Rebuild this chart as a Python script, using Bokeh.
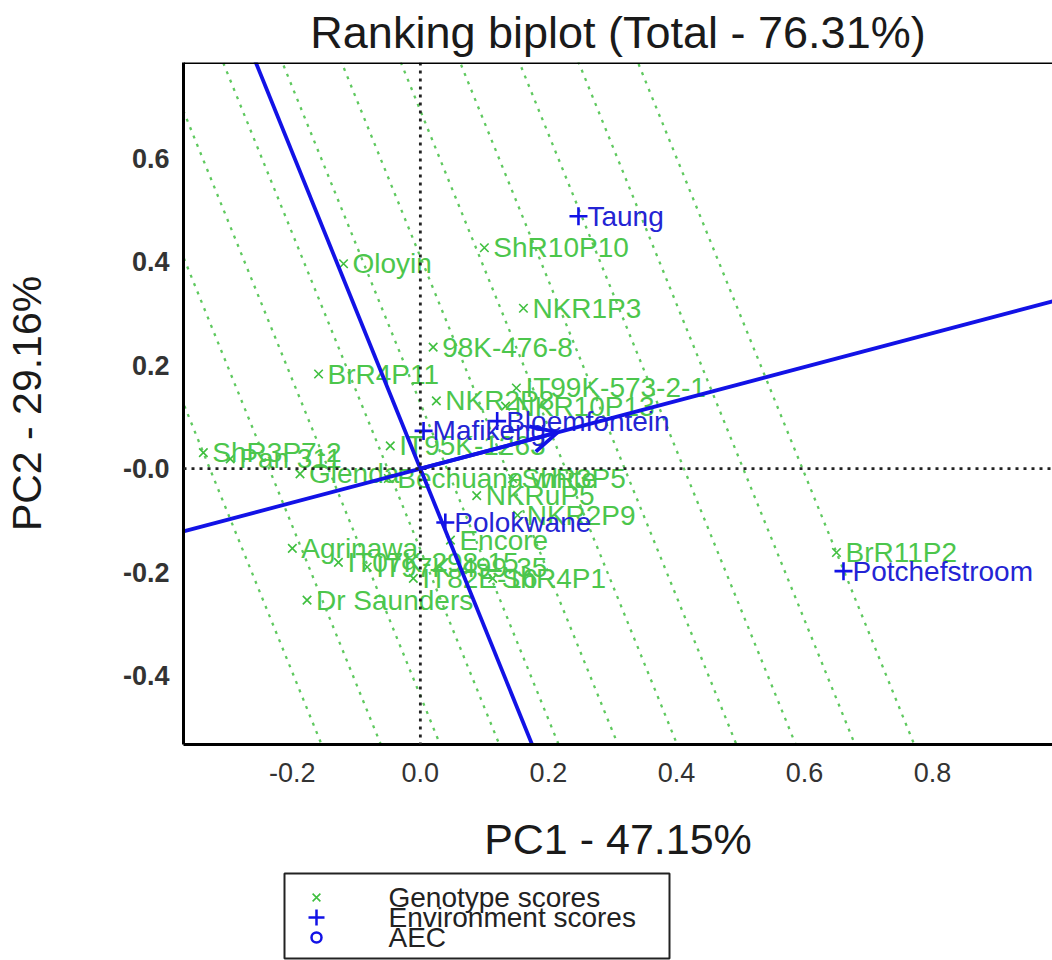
import numpy as np
from bokeh.plotting import figure
from bokeh.models import Range1d, FixedTicker, Span, Arrow, OpenHead, ColumnDataSource
from bokeh.layouts import column
from bokeh.core.properties import value
from bokeh.embed import file_html
from bokeh.resources import INLINE

# ---- chart text -------------------------------------------------------------
title_text = "Ranking biplot (Total - 76.31%)"
pc1_label = "PC1 - 47.15%"
pc2_label = "PC2 - 29.16%"

# ---- genotype scores (PC1, PC2) ---------------------------------------------
genotypes = [
    "Oloyin", "ShR10P10", "NKR1P3", "98K-476-8", "BrR4P11", "NKR2P8",
    "IT99K-573-2-1", "NKR10P13", "ShR3P7-2", "Pan 311", "IT95K-1263",
    "Glenda", "Bechuana white", "ShR3P5", "NKRuP5", "NKR2P9", "Agrinawa",
    "Encore", "IT07K-298-15", "IT97K-499-35", "IT82E-16", "ShR4P1",
    "Dr Saunders", "BrR11P2",
]
geno_pc1 = [
    -0.120, 0.100, 0.161, 0.020, -0.159, 0.025,
    0.150, 0.133, -0.339, -0.297, -0.047,
    -0.188, -0.050, 0.144, 0.088, 0.152, -0.200,
    0.047, -0.128, -0.083, -0.011, 0.113,
    -0.177, 0.650,
]
geno_pc2 = [
    0.396, 0.427, 0.310, 0.235, 0.183, 0.131,
    0.156, 0.121, 0.031, 0.019, 0.044,
    -0.010, -0.019, -0.019, -0.052, -0.090, -0.154,
    -0.138, -0.181, -0.190, -0.212, -0.212,
    -0.254, -0.162,
]

# ---- environment scores (PC1, PC2) ------------------------------------------
environments = ["Taung", "Bloemfontein", "Mafikeng", "Polokwane", "Potchefstroom"]
env_pc1 = [0.247, 0.120, 0.005, 0.039, 0.661]
env_pc2 = [0.488, 0.092, 0.073, -0.104, -0.198]

# ---- axes -------------------------------------------------------------------
x_ticks = [-0.2, 0.0, 0.2, 0.4, 0.6, 0.8]
x_tick_labels = ["-0.2", "0.0", "0.2", "0.4", "0.6", "0.8"]
y_ticks = [-0.4, -0.2, 0.0, 0.2, 0.4, 0.6]
y_tick_labels = ["-0.4", "-0.2", "-0.0", "0.2", "0.4", "0.6"]
x_lim = (-0.370, 0.9875)
y_lim = (-0.533, 0.785)

legend_labels = ["Genotype scores", "Environment scores", "AEC"]

GREEN = "#3fbf3f"
GREEN_TXT = "#4cc64c"
GREEN_DOT = "#5fc95f"
BLUE = "#1212e6"
BLUE_TXT = "#2424d4"
FONT = value("Liberation Sans")

# ---- average environment coordinate (AEC) ------------------------------------
gx = np.array(geno_pc1)
gy = np.array(geno_pc2)
aec = np.array([np.mean(env_pc1), np.mean(env_pc2)])
a_dir = aec / np.linalg.norm(aec)           # AEC abscissa direction
o_dir = np.array([-a_dir[1], a_dir[0]])      # AEC ordinate direction
L = 5.0

p = figure(
    width=1052, height=865,
    x_range=Range1d(*x_lim), y_range=Range1d(*y_lim),
    toolbar_location=None, output_backend="svg",
    min_border_left=183, min_border_right=0,
    min_border_top=60, min_border_bottom=120,
)
p.background_fill_color = "white"
p.border_fill_color = "white"
p.outline_line_color = None
p.grid.visible = False

# ranking guides: perpendicular to the AEC, spanning the genotype projections
proj = gx * a_dir[0] + gy * a_dir[1]
levels = np.linspace(proj.min(), proj.max(), 11)
xs = [[t * a_dir[0] - L * o_dir[0], t * a_dir[0] + L * o_dir[0]] for t in levels]
ys = [[t * a_dir[1] - L * o_dir[1], t * a_dir[1] + L * o_dir[1]] for t in levels]
p.multi_line(xs, ys, line_color=GREEN_DOT, line_width=2.3, line_dash="3 6")

# zero reference lines
p.add_layout(Span(location=0, dimension="width", line_color="#222222",
                  line_width=2.8, line_dash="3 5"))
p.add_layout(Span(location=0, dimension="height", line_color="#222222",
                  line_width=2.8, line_dash="3 5"))

# genotype markers and labels
gsrc = ColumnDataSource(dict(x=geno_pc1, y=geno_pc2, name=genotypes))
p.scatter("x", "y", source=gsrc, marker="x", size=12, line_color=GREEN, line_width=1.6)
p.text("x", "y", text="name", source=gsrc, x_offset=9, text_baseline="middle",
       text_align="left", text_color=GREEN_TXT, text_font=FONT, text_font_size="28px")

# environment markers and labels
esrc = ColumnDataSource(dict(x=env_pc1, y=env_pc2, name=environments))
p.scatter("x", "y", source=esrc, marker="cross", size=18, line_color=BLUE, line_width=2.6)
p.text("x", "y", text="name", source=esrc, x_offset=9, text_baseline="middle",
       text_align="left", text_color=BLUE_TXT, text_font=FONT, text_font_size="28px")

# AEC abscissa and ordinate
p.line([-L * a_dir[0], L * a_dir[0]], [-L * a_dir[1], L * a_dir[1]],
       line_color=BLUE, line_width=3.8)
p.line([-L * o_dir[0], L * o_dir[0]], [-L * o_dir[1], L * o_dir[1]],
       line_color=BLUE, line_width=3.8)
p.add_layout(Arrow(end=OpenHead(size=26, line_color=BLUE, line_width=3.8),
                   x_start=0, y_start=0, x_end=aec[0], y_end=aec[1],
                   line_color=BLUE, line_width=3.8))

# frame top edge
p.add_layout(Span(location=y_lim[1], dimension="width", line_color="black", line_width=3))

# title
p.title.text = title_text
p.title.align = "center"
p.title.text_font = "Liberation Sans"
p.title.text_font_size = "45px"
p.title.text_font_style = "normal"
p.title.text_color = "#1a1a1a"
p.title.standoff = 9

# axes
p.xaxis.ticker = FixedTicker(ticks=x_ticks)
p.xaxis.major_label_overrides = dict(zip(x_ticks, x_tick_labels))
p.yaxis.ticker = FixedTicker(ticks=y_ticks)
p.yaxis.major_label_overrides = dict(zip(y_ticks, y_tick_labels))
for ax in (p.xaxis[0], p.yaxis[0]):
    ax.axis_line_width = 3
    ax.axis_line_color = "black"
    ax.major_tick_line_color = None
    ax.minor_tick_line_color = None
    ax.major_label_text_font = "Liberation Sans"
    ax.major_label_text_font_size = "27px"
    ax.major_label_text_color = "#333333"
    ax.axis_label_text_font = "Liberation Sans"
    ax.axis_label_text_font_size = "43px"
    ax.axis_label_text_font_style = "normal"
    ax.axis_label_text_color = "#1a1a1a"
p.yaxis.major_label_text_font_style = "bold"
p.yaxis.axis_label_text_font_size = "41px"
p.xaxis.axis_label = pc1_label
p.yaxis.axis_label = pc2_label
p.xaxis.major_label_standoff = 12
p.xaxis.axis_label_standoff = 30
p.yaxis.major_label_standoff = 8
p.yaxis.axis_label_standoff = 70

# ---- legend panel (frame aligned with the plot frame, page-pixel units) -----
leg = figure(width=1052, height=95, x_range=Range1d(183, 1052), y_range=Range1d(95, 0),
             toolbar_location=None, output_backend="svg", min_border=0,
             min_border_left=183, x_axis_location=None, y_axis_location=None)
leg.grid.visible = False
leg.outline_line_color = None
leg.background_fill_color = "white"
leg.border_fill_color = "white"

row_y = [32, 52, 72]
leg.quad(left=[284], right=[669], top=[8], bottom=[93], fill_color=None,
         line_color="#222222", line_width=2)
leg.scatter([316], [row_y[0]], marker="x", size=11, line_color=GREEN, line_width=1.6)
leg.scatter([316], [row_y[1]], marker="cross", size=16, line_color=BLUE, line_width=2.5)
leg.scatter([316], [row_y[2]], marker="circle", size=10, fill_color=None,
            line_color=BLUE, line_width=2.5)
leg.text([388] * 3, row_y, text=legend_labels, text_baseline="middle", text_align="left",
         text_color="#222222", text_font=FONT, text_font_size="28px")

layout = column(p, leg, spacing=0)
open("out.html", "w").write(file_html(layout, INLINE))
